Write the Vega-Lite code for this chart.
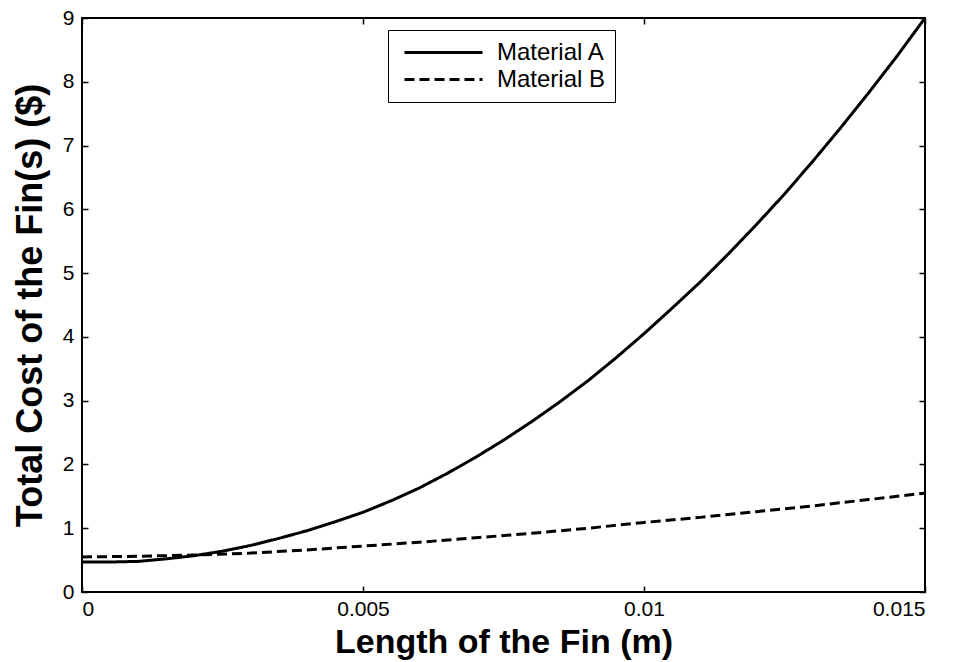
{
  "$schema": "https://vega.github.io/schema/vega-lite/v6.json",
  "width": 843,
  "height": 574,
  "autosize": {"type": "none"},
  "padding": {"left": 82, "top": 18, "right": 35, "bottom": 70},
  "background": "white",
  "config": {
    "font": "Liberation Sans",
    "view": {"stroke": "black", "strokeWidth": 2},
    "axis": {"grid": false, "domain": false, "tickColor": "black", "tickWidth": 1.5, "labelColor": "black", "labelFont": "Liberation Sans", "labelFontSize": 21, "titleFont": "Liberation Sans", "titleFontWeight": "bold", "titleColor": "black"}
  },
  "data": {"values": [
    {"x": 0, "y": 0.47, "m": "Material A"},
    {"x": 0.0005, "y": 0.47, "m": "Material A"},
    {"x": 0.001, "y": 0.48, "m": "Material A"},
    {"x": 0.0015, "y": 0.52, "m": "Material A"},
    {"x": 0.002, "y": 0.57, "m": "Material A"},
    {"x": 0.0025, "y": 0.64, "m": "Material A"},
    {"x": 0.003, "y": 0.73, "m": "Material A"},
    {"x": 0.0035, "y": 0.84, "m": "Material A"},
    {"x": 0.004, "y": 0.96, "m": "Material A"},
    {"x": 0.0045, "y": 1.1, "m": "Material A"},
    {"x": 0.005, "y": 1.25, "m": "Material A"},
    {"x": 0.0055, "y": 1.43, "m": "Material A"},
    {"x": 0.006, "y": 1.63, "m": "Material A"},
    {"x": 0.0065, "y": 1.86, "m": "Material A"},
    {"x": 0.007, "y": 2.11, "m": "Material A"},
    {"x": 0.0075, "y": 2.38, "m": "Material A"},
    {"x": 0.008, "y": 2.67, "m": "Material A"},
    {"x": 0.0085, "y": 2.98, "m": "Material A"},
    {"x": 0.009, "y": 3.31, "m": "Material A"},
    {"x": 0.0095, "y": 3.67, "m": "Material A"},
    {"x": 0.01, "y": 4.05, "m": "Material A"},
    {"x": 0.0105, "y": 4.45, "m": "Material A"},
    {"x": 0.011, "y": 4.86, "m": "Material A"},
    {"x": 0.0115, "y": 5.3, "m": "Material A"},
    {"x": 0.012, "y": 5.76, "m": "Material A"},
    {"x": 0.0125, "y": 6.24, "m": "Material A"},
    {"x": 0.013, "y": 6.75, "m": "Material A"},
    {"x": 0.0135, "y": 7.28, "m": "Material A"},
    {"x": 0.014, "y": 7.83, "m": "Material A"},
    {"x": 0.0145, "y": 8.4, "m": "Material A"},
    {"x": 0.015, "y": 9.0, "m": "Material A"},
    {"x": 0, "y": 0.55, "m": "Material B"},
    {"x": 0.001, "y": 0.56, "m": "Material B"},
    {"x": 0.002, "y": 0.58, "m": "Material B"},
    {"x": 0.003, "y": 0.61, "m": "Material B"},
    {"x": 0.004, "y": 0.66, "m": "Material B"},
    {"x": 0.005, "y": 0.72, "m": "Material B"},
    {"x": 0.006, "y": 0.78, "m": "Material B"},
    {"x": 0.007, "y": 0.85, "m": "Material B"},
    {"x": 0.008, "y": 0.92, "m": "Material B"},
    {"x": 0.009, "y": 1.0, "m": "Material B"},
    {"x": 0.01, "y": 1.09, "m": "Material B"},
    {"x": 0.011, "y": 1.17, "m": "Material B"},
    {"x": 0.012, "y": 1.26, "m": "Material B"},
    {"x": 0.013, "y": 1.35, "m": "Material B"},
    {"x": 0.014, "y": 1.45, "m": "Material B"},
    {"x": 0.015, "y": 1.55, "m": "Material B"}
  ]},
  "layer": [
    {
      "mark": {"type": "line", "color": "black", "strokeWidth": 3, "clip": true},
      "encoding": {
        "x": {"field": "x", "type": "quantitative", "scale": {"domain": [0, 0.015], "nice": false}, "axis": {"orient": "bottom", "values": [0, 0.005, 0.01, 0.015], "format": ".3~f", "tickSize": -6, "labelPadding": 12, "title": "Length of the Fin (m)", "titleFontSize": 34, "titlePadding": 6}},
        "y": {"field": "y", "type": "quantitative", "scale": {"domain": [0, 9], "nice": false}, "axis": {"orient": "left", "values": [0, 1, 2, 3, 4, 5, 6, 7, 8, 9], "tickSize": -6, "labelPadding": 14, "title": "Total Cost of the Fin(s) ($)", "titleFontSize": 36, "titlePadding": 13}},
        "strokeDash": {"field": "m", "type": "nominal", "scale": {"domain": ["Material A", "Material B"], "range": [[1, 0], [10, 5]]}, "legend": {"orient": "none", "legendX": 306, "legendY": 12, "title": null, "strokeColor": "black", "fillColor": "white", "padding": 9, "symbolType": "M-1,0H1", "symbolSize": 6084, "symbolStrokeWidth": 3, "symbolStrokeColor": "black", "symbolOffset": 6, "clipHeight": 27, "labelFontSize": 24, "labelColor": "black", "labelFont": "Liberation Sans", "rowPadding": 0, "labelOffset": 13}}
      }
    },
    {
      "mark": {"type": "point", "opacity": 0},
      "encoding": {
        "x": {"field": "x", "type": "quantitative", "axis": {"orient": "top", "values": [0, 0.005, 0.01, 0.015], "labels": false, "tickSize": -6, "title": null}},
        "y": {"field": "y", "type": "quantitative", "axis": {"orient": "right", "values": [0, 1, 2, 3, 4, 5, 6, 7, 8, 9], "labels": false, "tickSize": -6, "title": null}}
      }
    }
  ],
  "resolve": {"axis": {"x": "independent", "y": "independent"}}
}
